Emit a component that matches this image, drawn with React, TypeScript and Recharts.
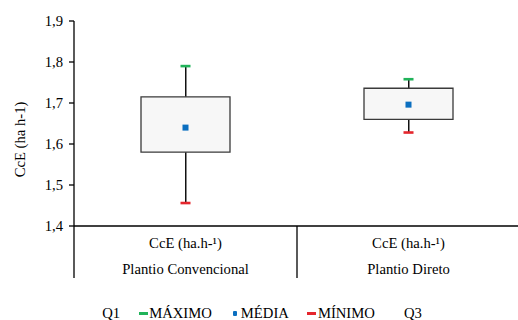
import React from 'react';
import { ComposedChart, Bar, Scatter, XAxis, YAxis, Legend } from 'recharts';

const categories = ['Plantio Convencional', 'Plantio Direto'];
const q1Values = [1.58, 1.66];
const q3Values = [1.715, 1.736];
const maxValues = [1.79, 1.758];
const minValues = [1.456, 1.628];
const meanValues = [1.64, 1.696];
const yTicks = [1.4, 1.5, 1.6, 1.7, 1.8, 1.9];
const subLabel = 'CcE (ha.h-¹)';
const yLabel = 'CcE (ha h-1)';

const data = categories.map((name, i) => ({
  name,
  box: [q1Values[i], q3Values[i]],
  whisker: [minValues[i], maxValues[i]],
  max: maxValues[i],
  min: minValues[i],
  mean: meanValues[i],
}));

const FONT = "'Liberation Serif', 'Times New Roman', 'DejaVu Serif', serif";
const FS = 14.67;
const GREEN = '#21b35a';
const BLUE = '#0b6fc0';
const RED = '#e5262d';

const legendItems = [
  { label: 'Q1', icon: 'none', color: 'transparent' },
  { label: 'MÁXIMO', icon: 'line', color: GREEN },
  { label: 'MÉDIA', icon: 'square', color: BLUE },
  { label: 'MÍNIMO', icon: 'line', color: RED },
  { label: 'Q3', icon: 'none', color: 'transparent' },
];

const CatTick = (props: any) => {
  const { x, y, payload } = props;
  const off = payload && payload.offset ? payload.offset : 0;
  return (
    <g>
      <line x1={x - off} x2={x - off} y1={y} y2={y + 52} stroke="#000" strokeWidth={1.3} />
      <text x={x} y={y + 22} textAnchor="middle" style={{ fontFamily: FONT, fontSize: FS }} fill="#000">
        {subLabel}
      </text>
      <text x={x} y={y + 48} textAnchor="middle" style={{ fontFamily: FONT, fontSize: FS }} fill="#000">
        {payload.value}
      </text>
    </g>
  );
};

const YLabel = (props: any) => {
  const vb = props.viewBox || {};
  const cx = vb.x + 20;
  const cy = vb.y + vb.height / 2 + 16;
  return (
    <text
      x={cx}
      y={cy}
      transform={`rotate(-90, ${cx}, ${cy})`}
      textAnchor="middle"
      dominantBaseline="central"
      style={{ fontFamily: FONT, fontSize: FS }}
      fill="#000"
    >
      {yLabel}
    </text>
  );
};

const LegendContent = () => (
  <div
    style={{
      display: 'flex',
      justifyContent: 'center',
      gap: 18,
      fontFamily: FONT,
      fontSize: FS,
      color: '#000',
      lineHeight: '17px',
    }}
  >
    {legendItems.map((it) => (
      <div key={it.label} style={{ display: 'flex', alignItems: 'center' }}>
        <span
          style={{
            width: 10,
            marginRight: 1,
            display: 'inline-flex',
            justifyContent: 'center',
            alignItems: 'center',
          }}
        >
          {it.icon === 'line' && <span style={{ width: 9, height: 2.5, background: it.color }} />}
          {it.icon === 'square' && <span style={{ width: 4.5, height: 4.5, borderRadius: 1, background: it.color }} />}
        </span>
        <span>{it.label}</span>
      </div>
    ))}
  </div>
);

const MaxShape = (p: any) => <rect x={p.cx - 5} y={p.cy - 1.3} width={10} height={2.6} fill={GREEN} />;
const MinShape = (p: any) => <rect x={p.cx - 5} y={p.cy - 1.3} width={10} height={2.6} fill={RED} />;
const MeanShape = (p: any) => <rect x={p.cx - 3} y={p.cy - 3} width={6} height={6} fill={BLUE} />;

export default function App() {
  return (
    <div style={{ position: 'absolute', left: 0, top: 0, width: 518, height: 320, overflow: 'hidden', background: '#fff' }}>
      <ComposedChart width={520} height={320} data={data} margin={{ top: 21, right: 0, left: 0, bottom: 42 }}>
        <XAxis
          xAxisId="a"
          dataKey="name"
          type="category"
          height={52}
          axisLine={{ stroke: '#000', strokeWidth: 1.3 }}
          tickLine={false}
          tickSize={0}
          tickMargin={0}
          tick={<CatTick />}
          interval={0}
        />
        <XAxis xAxisId="w" dataKey="name" type="category" hide />
        <YAxis
          domain={[1.4, 1.9]}
          ticks={yTicks}
          width={74}
          interval={0}
          axisLine={{ stroke: '#000', strokeWidth: 1.3 }}
          tickLine={{ stroke: '#000', strokeWidth: 1.3 }}
          tickSize={5}
          tickMargin={6}
          tick={{ fontFamily: FONT, fontSize: FS, fill: '#000', style: { fontFamily: FONT } }}
          tickFormatter={(v: number) => v.toFixed(1).replace('.', ',')}
          label={<YLabel />}
        />
        <Bar xAxisId="w" dataKey="whisker" barSize={1.5} fill="#111" isAnimationActive={false} />
        <Bar
          xAxisId="a"
          dataKey="box"
          barSize={89}
          fill="#f7f7f7"
          stroke="#3a3a3a"
          strokeWidth={1.3}
          isAnimationActive={false}
        />
        <Scatter xAxisId="a" dataKey="max" shape={<MaxShape />} isAnimationActive={false} />
        <Scatter xAxisId="a" dataKey="min" shape={<MinShape />} isAnimationActive={false} />
        <Scatter xAxisId="a" dataKey="mean" shape={<MeanShape />} isAnimationActive={false} />
        <Legend
          layout="horizontal"
          verticalAlign="middle"
          align="center"
          content={<LegendContent />}
          wrapperStyle={{ top: 305, left: 0, width: 513 }}
        />
      </ComposedChart>
    </div>
  );
}
